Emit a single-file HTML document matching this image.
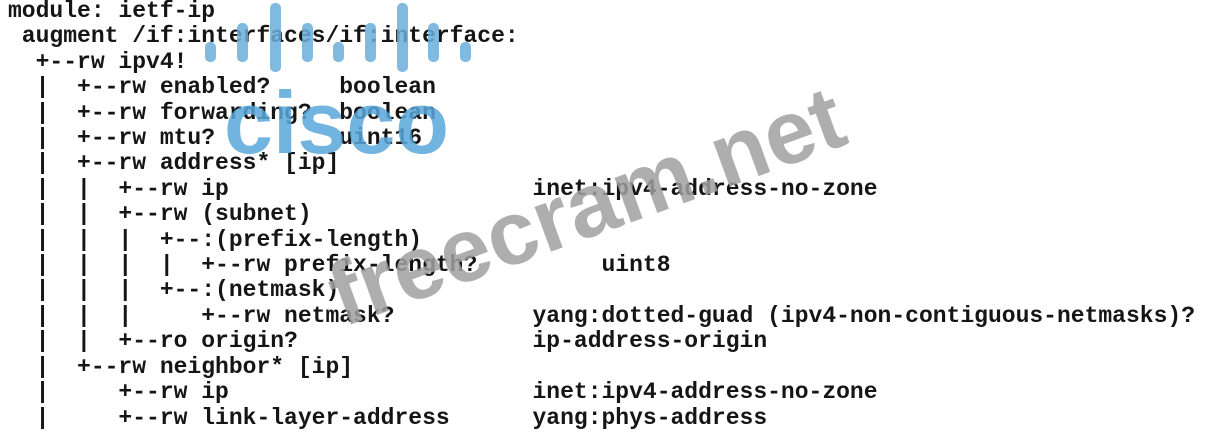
<!DOCTYPE html>
<html><head><meta charset="utf-8"><style>
html,body{margin:0;padding:0;background:#fff;width:1213px;height:438px;overflow:hidden;position:relative}
pre{position:absolute;left:8px;top:-1px;margin:0;font-family:"Liberation Mono",monospace;font-weight:bold;font-size:23px;line-height:25.4px;color:#151515;z-index:1}
.bar{position:absolute;background:#6aaedc;border-radius:5px;width:11px;opacity:.85;z-index:2}
.cisco{position:absolute;left:224px;top:79px;line-height:88px;font-family:"Liberation Sans",sans-serif;font-weight:bold;font-size:88px;color:#5aa7db;opacity:.85;z-index:2}
.fc{position:absolute;left:345px;top:252px;line-height:90px;font-family:"Liberation Sans",sans-serif;font-weight:bold;font-size:90px;color:#a0a0a0;opacity:.85;transform:rotate(-20deg);transform-origin:0 81px;z-index:2;white-space:nowrap}
</style></head><body>
<div class="bar" style="left:205px;top:42px;height:20px"></div>
<div class="bar" style="left:237px;top:23px;height:39px"></div>
<div class="bar" style="left:270px;top:3px;height:69px"></div>
<div class="bar" style="left:302px;top:23px;height:39px"></div>
<div class="bar" style="left:333px;top:42px;height:20px"></div>
<div class="bar" style="left:365px;top:23px;height:39px"></div>
<div class="bar" style="left:397px;top:3px;height:69px"></div>
<div class="bar" style="left:428px;top:23px;height:39px"></div>
<div class="bar" style="left:460px;top:42px;height:20px"></div>
<div class="cisco">cisco</div>
<div class="fc">freecram.net</div>
<pre>module: ietf-ip
 augment /if:interfaces/if:interface:
  +--rw ipv4!
  |  +--rw enabled?     boolean
  |  +--rw forwarding?  boolean
  |  +--rw mtu?         uint16
  |  +--rw address* [ip]
  |  |  +--rw ip                      inet:ipv4-address-no-zone
  |  |  +--rw (subnet)
  |  |  |  +--:(prefix-length)
  |  |  |  |  +--rw prefix-length?         uint8
  |  |  |  +--:(netmask)
  |  |  |     +--rw netmask?          yang:dotted-guad (ipv4-non-contiguous-netmasks)?
  |  |  +--ro origin?                 ip-address-origin
  |  +--rw neighbor* [ip]
  |     +--rw ip                      inet:ipv4-address-no-zone
  |     +--rw link-layer-address      yang:phys-address</pre>
</body></html>
